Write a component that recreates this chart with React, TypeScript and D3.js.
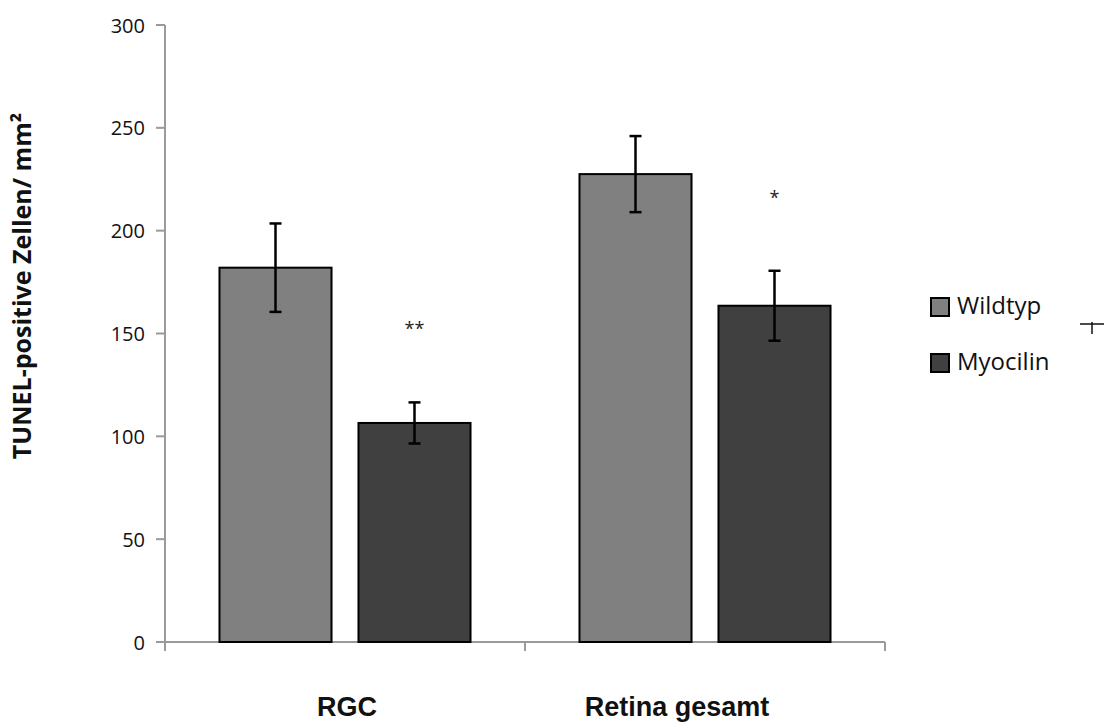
import React from "react";
import * as d3 from "d3";

const categories = ["RGC", "Retina gesamt"];
const seriesNames = ["Wildtyp", "Myocilin"];
const wildtypValues = [182, 227.5];
const wildtypErrors = [21.5, 18.5];
const myocilinValues = [106.5, 163.5];
const myocilinErrors = [10, 17];
const significance = ["**", "*"];
const yTicks = [0, 50, 100, 150, 200, 250, 300];

const W = 1104;
const H = 722;
const colors = ["#808080", "#404040"];
const labelShift = [2, -28];

export default function App() {
  const left = 165;
  const right = 885;
  const top = 25;
  const bottom = 642;
  const y = d3.scaleLinear().domain([0, 300]).range([bottom, top]);
  const x0 = d3.scaleBand().domain(categories).range([left, right]).padding(0);
  const x1 = d3
    .scaleBand()
    .domain(seriesNames)
    .range([0, x0.bandwidth()])
    .paddingInner(0.194)
    .paddingOuter(0.392);

  const series = [
    { name: seriesNames[0], values: wildtypValues, errors: wildtypErrors },
    { name: seriesNames[1], values: myocilinValues, errors: myocilinErrors },
  ];

  return (
    <svg width={W} height={H} style={{ position: "absolute", left: 0, top: 0, background: "#fff" }}>
      {/* y axis */}
      <line x1={left} x2={left} y1={y(300)} y2={bottom} stroke="#9a9a9a" strokeWidth={2} />
      {yTicks.map((t) => (
        <g key={t}>
          <line x1={left - 9} x2={left} y1={y(t)} y2={y(t)} stroke="#9a9a9a" strokeWidth={2} />
          <text
            x={left - 20}
            y={y(t)}
            textAnchor="end"
            dominantBaseline="central"
            fontFamily="Open Sans, sans-serif"
            fontSize={20}
            fill="#111"
          >
            {t}
          </text>
        </g>
      ))}
      {/* x axis */}
      <line x1={left - 9} x2={right} y1={bottom} y2={bottom} stroke="#9a9a9a" strokeWidth={2} />
      {[left, ...categories.map((c) => (x0(c) as number) + x0.bandwidth())].map((xx, i) => (
        <line key={i} x1={xx} x2={xx} y1={bottom} y2={bottom + 9} stroke="#9a9a9a" strokeWidth={2} />
      ))}

      {/* bars */}
      {series.map((s, si) =>
        categories.map((c, ci) => {
          const bx = (x0(c) as number) + (x1(s.name) as number);
          const bw = x1.bandwidth();
          const v = s.values[ci];
          const e = s.errors[ci];
          const cx = bx + bw / 2;
          return (
            <g key={s.name + c}>
              <rect
                x={bx}
                y={y(v)}
                width={bw}
                height={bottom - y(v)}
                fill={colors[si]}
                stroke="#000"
                strokeWidth={2}
              />
              <line x1={cx} x2={cx} y1={y(v + e)} y2={y(v - e)} stroke="#000" strokeWidth={2.5} />
              <line x1={cx - 6} x2={cx + 6} y1={y(v + e)} y2={y(v + e)} stroke="#000" strokeWidth={2.5} />
              <line x1={cx - 6} x2={cx + 6} y1={y(v - e)} y2={y(v - e)} stroke="#000" strokeWidth={2.5} />
            </g>
          );
        })
      )}

      {/* significance */}
      {categories.map((c, ci) => {
        const bx = (x0(c) as number) + (x1(seriesNames[1]) as number) + x1.bandwidth() / 2;
        const v = myocilinValues[ci] + myocilinErrors[ci];
        return (
          <text
            key={c}
            x={bx}
            y={y(v) - 67}
            textAnchor="middle"
            fontFamily="Open Sans, sans-serif"
            fontSize={18}
            fill="#222"
          >
            {significance[ci]}
          </text>
        );
      })}

      {/* category labels */}
      {categories.map((c, ci) => (
        <text
          key={c}
          x={(x0(c) as number) + x0.bandwidth() / 2 + labelShift[ci]}
          y={716}
          textAnchor="middle"
          fontFamily="Liberation Sans, Arial, sans-serif"
          fontWeight="bold"
          fontSize={27}
          fill="#111"
        >
          {c}
        </text>
      ))}

      {/* y-axis title */}
      <text
        transform={`translate(31, ${286}) rotate(-90)`}
        textAnchor="middle"
        fontFamily="Open Sans, sans-serif"
        fontWeight="bold"
        fontSize={25}
        fill="#111"
      >
        TUNEL-positive Zellen/ mm²
      </text>

      {/* legend */}
      {seriesNames.map((n, i) => (
        <g key={n} transform={`translate(930, ${297 + i * 56})`}>
          <rect x={1} y={1} width={18} height={18} fill={colors[i]} stroke="#000" strokeWidth={2} />
          <text
            x={27}
            y={7}
            dominantBaseline="central"
            fontFamily="Open Sans, sans-serif"
            fontSize={24}
            fill="#111"
          >
            {n}
          </text>
        </g>
      ))}
      <line x1={1080} x2={1104} y1={324} y2={324} stroke="#111" strokeWidth={1.5} />
      <line x1={1092} x2={1092} y1={322} y2={334} stroke="#111" strokeWidth={1.5} />
    </svg>
  );
}
